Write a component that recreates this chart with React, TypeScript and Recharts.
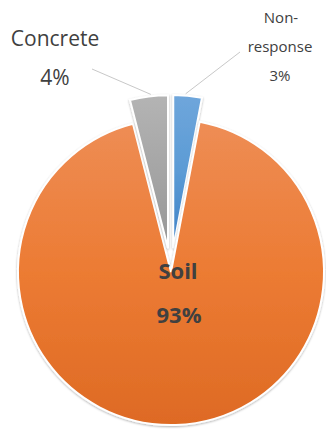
import React from 'react';
import { PieChart, Pie, Cell } from 'recharts';

const categories = ['Non-response', 'Soil', 'Concrete'];
const shares = [3, 93, 4];
const gradients = [
  ['#6FA6DB', '#5B9BD5', '#3F81C6'],
  ['#EE8D55', '#EC7B33', '#DE6A24'],
  ['#B4B4B4', '#A5A5A5', '#979797'],
];
// slices pulled out of the pie, and by how much
const explode = [24, 0, 24];

const data = categories.map((name, i) => ({ name, value: shares[i] }));

const CX = 171;
const CY = 272;
const R = 153;
const RAD = Math.PI / 180;
const FONT = '"Open Sans", "Noto Sans", sans-serif';

const renderLabel = (props: any) => {
  const { cx, cy, midAngle, outerRadius, name, percent, index } = props;
  const pct = `${Math.round(percent * 100)}%`;
  const ex = explode[index];
  const ox = cx + ex * Math.cos(-midAngle * RAD);
  const oy = cy + ex * Math.sin(-midAngle * RAD);
  const tipX = ox + outerRadius * Math.cos(-midAngle * RAD);
  const tipY = oy + outerRadius * Math.sin(-midAngle * RAD);

  if (name === 'Soil') {
    return (
      <g key={name}>
        <text x={cx + 7} y={cy - 2} textAnchor="middle" dominantBaseline="central"
          fontFamily={FONT} fontSize={22} fontWeight={700} fill="#404040">Soil</text>
        <text x={cx + 8} y={cy + 42} textAnchor="middle" dominantBaseline="central"
          fontFamily={FONT} fontSize={22} fontWeight={700} fill="#404040">{pct}</text>
      </g>
    );
  }
  if (name === 'Concrete') {
    return (
      <g key={name}>
        <line x1={92} y1={69} x2={tipX + 2} y2={tipY - 2} stroke="#C8C8C8" strokeWidth={1} />
        <text x={55} y={38} textAnchor="middle" dominantBaseline="central"
          fontFamily={FONT} fontSize={21} fill="#404040">Concrete</text>
        <text x={55} y={77} textAnchor="middle" dominantBaseline="central"
          fontFamily={FONT} fontSize={21} fill="#404040">{pct}</text>
      </g>
    );
  }
  return (
    <g key={name}>
      <line x1={240} y1={52} x2={tipX - 2} y2={tipY - 2} stroke="#C8C8C8" strokeWidth={1} />
      <text x={281} y={17} textAnchor="middle" dominantBaseline="central"
        fontFamily={FONT} fontSize={15} fill="#404040">Non-</text>
      <text x={280} y={46} textAnchor="middle" dominantBaseline="central"
        fontFamily={FONT} fontSize={15} fill="#404040">response</text>
      <text x={280} y={75} textAnchor="middle" dominantBaseline="central"
        fontFamily={FONT} fontSize={15} fill="#404040">{pct}</text>
    </g>
  );
};

// mid angle of each slice, clockwise from 12 o'clock
const total = shares.reduce((a, b) => a + b, 0);
const midAngles = shares.map((v, i) => {
  const before = shares.slice(0, i).reduce((a, b) => a + b, 0);
  return 90 - ((before + v / 2) / total) * 360;
});

export default function App() {
  return (
    <div style={{ position: 'absolute', left: 0, top: 0, width: 326, height: 432, background: '#fff' }}>
      <PieChart width={326} height={432} margin={{ top: 0, right: 0, bottom: 0, left: 0 }}>
        <defs>
          {gradients.map((g, i) => (
            <linearGradient key={i} id={`grad${i}`} x1="0" y1="0" x2="0" y2="1">
              <stop offset="0%" stopColor={g[0]} />
              <stop offset="50%" stopColor={g[1]} />
              <stop offset="100%" stopColor={g[2]} />
            </linearGradient>
          ))}
          <filter id="shadow" x="-10%" y="-10%" width="120%" height="120%">
            <feDropShadow dx="0" dy="1" stdDeviation="1.2" floodColor="#000" floodOpacity="0.3" />
          </filter>
        </defs>
        {data.map((d, k) => {
          const ex = explode[k];
          const px = CX + ex * Math.cos(midAngles[k] * RAD);
          const py = CY - ex * Math.sin(midAngles[k] * RAD);
          return (
            <Pie
              key={d.name}
              data={data}
              dataKey="value"
              nameKey="name"
              cx={px}
              cy={py}
              outerRadius={R}
              startAngle={90}
              endAngle={-270}
              isAnimationActive={false}
              labelLine={false}
              label={d.name === 'Soil' ? renderLabel : false}
              style={{ filter: 'url(#shadow)' }}
            >
              {data.map((c, i) => (
                <Cell
                  key={c.name}
                  fill={i === k ? `url(#grad${i})` : 'transparent'}
                  stroke={i === k ? '#FFFFFF' : 'none'}
                  strokeWidth={2}
                />
              ))}
            </Pie>
          );
        })}
      </PieChart>
    </div>
  );
}
